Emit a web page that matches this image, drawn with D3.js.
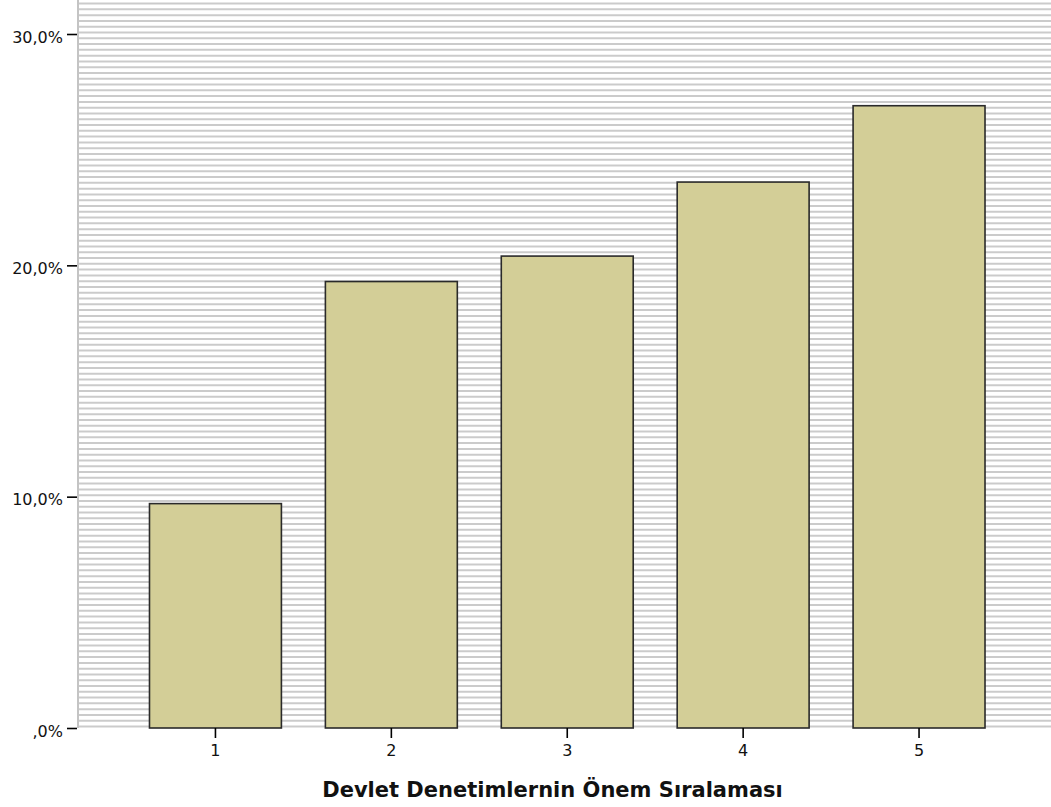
<!DOCTYPE html>
<html>
<head>
<meta charset="utf-8">
<script src="https://cdn.jsdelivr.net/npm/d3@7"></script>
<style>
  html, body { margin: 0; padding: 0; background: #ffffff; }
  svg { display: block; }
  text { font-family: "DejaVu Sans", Verdana, sans-serif; }
</style>
</head>
<body>
<svg id="chart" width="1051" height="807"></svg>
<script>
// Category labels and percentage per category
const categories = ["1", "2", "3", "4", "5"];
const percents = [9.7, 19.3, 20.4, 23.6, 26.9];
const yTicks = [0, 10, 20, 30];
const xTitle = "Devlet Denetimlernin Önem Sıralaması";

const W = 1051, H = 807;
const plot = { left: 78, right: 1051, top: 0, bottom: 728 };

const svg = d3.select("#chart");

const y = d3.scaleLinear().domain([0, 31.47]).range([plot.bottom, plot.top]);
const x = d3.scaleBand()
  .domain(categories)
  .range([127.5, 1007])
  .paddingInner(0.25)
  .paddingOuter(0.125);

// Hatched background: thin horizontal rules every quarter percent
const hatch = d3.range(0, 31.5, 0.25);
svg.append("g")
  .selectAll("line")
  .data(hatch)
  .join("line")
  .attr("x1", plot.left)
  .attr("x2", plot.right)
  .attr("y1", d => y(d) - 1.5)
  .attr("y2", d => y(d) - 1.5)
  .attr("stroke", "#cbcbcb")
  .attr("stroke-width", 2);

// Left frame line
svg.append("line")
  .attr("x1", plot.left).attr("x2", plot.left)
  .attr("y1", plot.top).attr("y2", plot.bottom)
  .attr("stroke", "#c4c4c4").attr("stroke-width", 2);

// Bars
svg.append("g")
  .selectAll("rect")
  .data(categories.map((c, i) => ({ c, v: percents[i] })))
  .join("rect")
  .attr("x", d => x(d.c))
  .attr("y", d => y(d.v))
  .attr("width", x.bandwidth())
  .attr("height", d => y(0) - y(d.v))
  .attr("fill", "#d3ce97")
  .attr("stroke", "#2a2a2a")
  .attr("stroke-width", 1.6);

// Y axis
const fmtPct = d => (d === 0 ? ",0" : d3.format(".1f")(d).replace(".", ",")) + "%";
const yAxis = d3.axisLeft(y)
  .tickValues(yTicks)
  .tickSize(10)
  .tickPadding(4)
  .tickFormat(fmtPct);
const gy = svg.append("g")
  .attr("transform", `translate(${plot.left - 1},0)`)
  .call(yAxis);
gy.select(".domain").remove();
gy.selectAll(".tick line").attr("stroke", "#000").attr("stroke-width", 1.6);
gy.selectAll(".tick text")
  .attr("fill", "#111")
  .attr("dy", "0.52em")
  .style("font-size", "16px")
  .style("font-family", "'DejaVu Sans', Verdana, sans-serif");

// X axis
const xAxis = d3.axisBottom(x).tickSize(10).tickPadding(7);
const gx = svg.append("g")
  .attr("transform", `translate(0,${plot.bottom})`)
  .call(xAxis);
gx.select(".domain").remove();
gx.selectAll(".tick line").attr("stroke", "#000").attr("stroke-width", 1.6);
gx.selectAll(".tick text")
  .attr("fill", "#111")
  .style("font-size", "16px")
  .style("font-family", "'DejaVu Sans', Verdana, sans-serif");

// X axis title
svg.append("text")
  .attr("x", (322 + 783) / 2)
  .attr("y", 797)
  .attr("text-anchor", "middle")
  .style("font-family", "'DejaVu Sans', Verdana, sans-serif")
  .style("font-weight", "bold")
  .style("font-size", "21px")
  .attr("fill", "#111")
  .text(xTitle);
</script>
</body>
</html>
